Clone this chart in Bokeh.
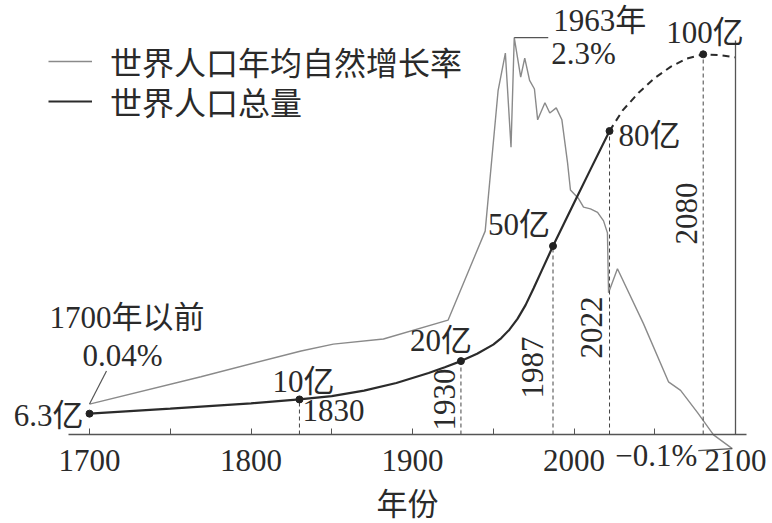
import math
from bokeh.plotting import figure
from bokeh.models import Range1d, LinearAxis, FixedTicker, Label, Legend, LegendItem
from bokeh.embed import file_html
from bokeh.resources import INLINE

# ---------------- data ----------------
# world population (亿), solid part
pop_years = [1700, 1750, 1800, 1830, 1850, 1870, 1890, 1910, 1920, 1930, 1940, 1950, 1955,
             1960, 1965, 1970, 1975, 1980, 1987, 2000, 2010, 2022]
pop_vals = [6.3, 7.6, 9.0, 10, 10.85, 12.3, 14.3, 16.9, 18.4, 20, 21.9, 24.3, 26.0,
            28.2, 31.0, 34.6, 39.0, 43.6, 50, 61.2, 69.8, 80]
# projection (dashed)
proj_years = [2022, 2030, 2040, 2050, 2060, 2070, 2080, 2090, 2100]
proj_vals = [80, 85.3, 90, 93.8, 96.8, 98.9, 100, 99.8, 99.2]
# marked points
mark_years = [1700, 1830, 1930, 1987, 2022, 2080]
mark_vals = [6.3, 10, 20, 50, 80, 100]
mark_labels = ["6.3亿", "10亿", "20亿", "50亿", "80亿", "100亿"]
# natural growth rate (%)
rate_years = [1700, 1769, 1831, 1851, 1882, 1922, 1945, 1953, 1957.5, 1961, 1963, 1967, 1969.5,
              1972.5, 1975.5, 1977.5, 1982, 1985, 1989, 1992.5, 1996, 1997.8, 2002.8, 2005.9,
              2010.2, 2014.6, 2018.3, 2020.7, 2021.4, 2026.9, 2043, 2058.5, 2066, 2076.5,
              2086.4, 2098]
rate_vals = [0.16, 0.32, 0.47, 0.51, 0.54, 0.65, 1.17, 1.99, 2.21, 1.66, 2.30, 2.07, 2.18,
             2.05, 2.00, 1.82, 1.92, 1.86, 1.89, 1.82, 1.57, 1.41, 1.36, 1.31,
             1.30, 1.28, 1.23, 1.16, 0.81, 0.95, 0.63, 0.29, 0.24, 0.11,
             -0.02, -0.10]
tick_years = [1700, 1750, 1800, 1850, 1900, 1950, 2000, 2050, 2100]
tick_texts = ["1700", "", "1800", "", "1900", "", "2000", "", "2100"]

# ---------------- page-pixel helpers (layout only) ----------------
W, H = 770, 521
X0, XS = 89.0, 1.615      # page x of 1700, px per year
PY0, PS = 437.3, 3.835    # population scale
RY0, RS = 431.0, 171.25   # rate scale


def X(px):
    return 1700 + (px - X0) / XS


def P(py):
    return (PY0 - py) / PS


def R(py):
    return (RY0 - py) / RS


SERIF = "Liberation Serif, Noto Sans CJK SC"
TXT = "#2a2a2a"
FS = "31px"

p = figure(width=W, height=H, output_backend="svg", toolbar_location=None,
           x_range=Range1d(X(0), X(W)), y_range=Range1d(P(H), P(0)),
           x_axis_location=None, y_axis_location=None, min_border=0)
p.extra_y_ranges = {"rate": Range1d(R(H), R(0))}
p.outline_line_color = None
p.background_fill_color = "white"
p.border_fill_color = "white"
p.grid.visible = False

axis_level = P(434)

# x axis (fixed at the baseline)
xaxis = LinearAxis(fixed_location=axis_level, bounds=(X(68), X(746)),
                   ticker=FixedTicker(ticks=tick_years),
                   major_label_overrides={t: s for t, s in zip(tick_years, tick_texts)})
xaxis.axis_line_color = "#555555"
xaxis.axis_line_width = 1.3
xaxis.major_tick_in = 6
xaxis.major_tick_out = 0
xaxis.major_tick_line_color = "#555555"
xaxis.minor_tick_line_color = None
xaxis.major_label_standoff = 15
xaxis.major_label_text_font = "Liberation Serif"
xaxis.major_label_text_font_size = FS
xaxis.major_label_text_color = TXT
xaxis.axis_label = "年份"
xaxis.axis_label_text_font = SERIF
xaxis.axis_label_text_font_size = FS
xaxis.axis_label_text_font_style = "normal"
xaxis.axis_label_text_color = TXT
xaxis.axis_label_standoff = 13
p.add_layout(xaxis, "below")

# right vertical axis line at 2100
raxis = LinearAxis(fixed_location=2100, bounds=(axis_level, P(40)), ticker=FixedTicker(ticks=[]))
raxis.axis_line_color = "#555555"
raxis.axis_line_width = 1.3
raxis.major_tick_line_color = None
raxis.minor_tick_line_color = None
p.add_layout(raxis, "right")

# growth-rate curve
rate_r = p.line(rate_years, rate_vals, y_range_name="rate", line_color="#8a8a8a", line_width=1.4)

# dashed guide lines from marked points to the axis
p.segment(x0=mark_years[1:], y0=[axis_level] * 5, x1=mark_years[1:], y1=mark_vals[1:],
          line_color="#444444", line_width=1, line_dash="4 3")

# population curve
pop_r = p.line(pop_years, pop_vals, line_color="#2b2b2b", line_width=2.2)
p.line(proj_years, proj_vals, line_color="#2b2b2b", line_width=2, line_dash="7 5")
p.scatter(mark_years, mark_vals, size=7, color="#222222")

# population labels (offsets relative to the dots, dx right, dy down)
pop_lab_off = [(-6, 2, "right"), (-27, -18, "left"), (-51, -21, "left"),
               (-65, -22, "left"), (9, 4, "left"), (-37, -22, "left")]
for yr, v, t, (dx, dy, al) in zip(mark_years, mark_vals, mark_labels, pop_lab_off):
    p.add_layout(Label(x=yr, y=v, x_offset=dx, y_offset=-dy, text=t, text_align=al,
                       text_baseline="middle", text_font=SERIF, text_font_size=FS,
                       text_color=TXT))

# year labels next to the dashed lines
p.add_layout(Label(x=1830, y=P(410), x_offset=3, text="1830", text_align="left",
                   text_baseline="middle", text_font=SERIF, text_font_size=FS, text_color=TXT))
for yr, dx, py in [(1930, -16, 399), (1987, -21, 367), (2022, -18, 327), (2080, -17, 213)]:
    p.add_layout(Label(x=yr, y=P(py), x_offset=dx, text=str(yr), angle=math.pi / 2,
                       text_align="center", text_baseline="middle", text_font=SERIF,
                       text_font_size=FS, text_color=TXT))

# rate annotations
peak_i = rate_vals.index(max(rate_vals))
pk_x, pk_y = rate_years[peak_i], rate_vals[peak_i]
p.segment(x0=[pk_x], y0=[pk_y], x1=[pk_x + 34 / XS], y1=[pk_y], y_range_name="rate",
          line_color="#555555", line_width=1.2)
p.add_layout(Label(x=pk_x, y=pk_y, y_range_name="rate", x_offset=39, y_offset=17,
                   text="1963年", text_align="left", text_baseline="middle",
                   text_font=SERIF, text_font_size=FS, text_color=TXT))
p.add_layout(Label(x=pk_x, y=pk_y, y_range_name="rate", x_offset=37, y_offset=-16,
                   text="2.3%", text_align="left", text_baseline="middle",
                   text_font=SERIF, text_font_size=FS, text_color=TXT))

s_x, s_y = rate_years[0], rate_vals[0]
p.segment(x0=[s_x], y0=[s_y], x1=[s_x + 17 / XS], y1=[s_y + 33 / RS], y_range_name="rate",
          line_color="#555555", line_width=1.2)
p.add_layout(Label(x=s_x, y=s_y, y_range_name="rate", x_offset=-40, y_offset=87,
                   text="1700年以前", text_align="left", text_baseline="middle",
                   text_font=SERIF, text_font_size=FS, text_color=TXT))
p.add_layout(Label(x=s_x, y=s_y, y_range_name="rate", x_offset=-7, y_offset=49,
                   text="0.04%", text_align="left", text_baseline="middle",
                   text_font=SERIF, text_font_size=FS, text_color=TXT))

e_x, e_y = rate_years[-1], rate_vals[-1]
p.segment(x0=[e_x], y0=[e_y], x1=[e_x - 34 / XS], y1=[e_y - 2 / RS], y_range_name="rate",
          line_color="#555555", line_width=1.2)
p.add_layout(Label(x=e_x, y=e_y, y_range_name="rate", x_offset=-35, y_offset=-7,
                   text="\u22120.1%", text_align="right", text_baseline="middle",
                   text_font=SERIF, text_font_size=FS, text_color=TXT))

# legend: two one-row legends so the rows sit as close as in the original
leg_style = dict(orientation="vertical", padding=0, margin=0, spacing=0,
                 glyph_width=44, glyph_height=48, label_height=48, label_standoff=18,
                 label_text_font=SERIF, label_text_font_size="32px", label_text_color=TXT,
                 background_fill_alpha=0, border_line_alpha=0)
leg1 = Legend(items=[LegendItem(label="世界人口年均自然增长率", renderers=[rate_r])],
              location=(48, H - 85), **leg_style)
leg2 = Legend(items=[LegendItem(label="世界人口总量", renderers=[pop_r])],
              location=(48, H - 125), **leg_style)
p.add_layout(leg1)
p.add_layout(leg2)

open("out.html", "w").write(file_html(p, INLINE))
